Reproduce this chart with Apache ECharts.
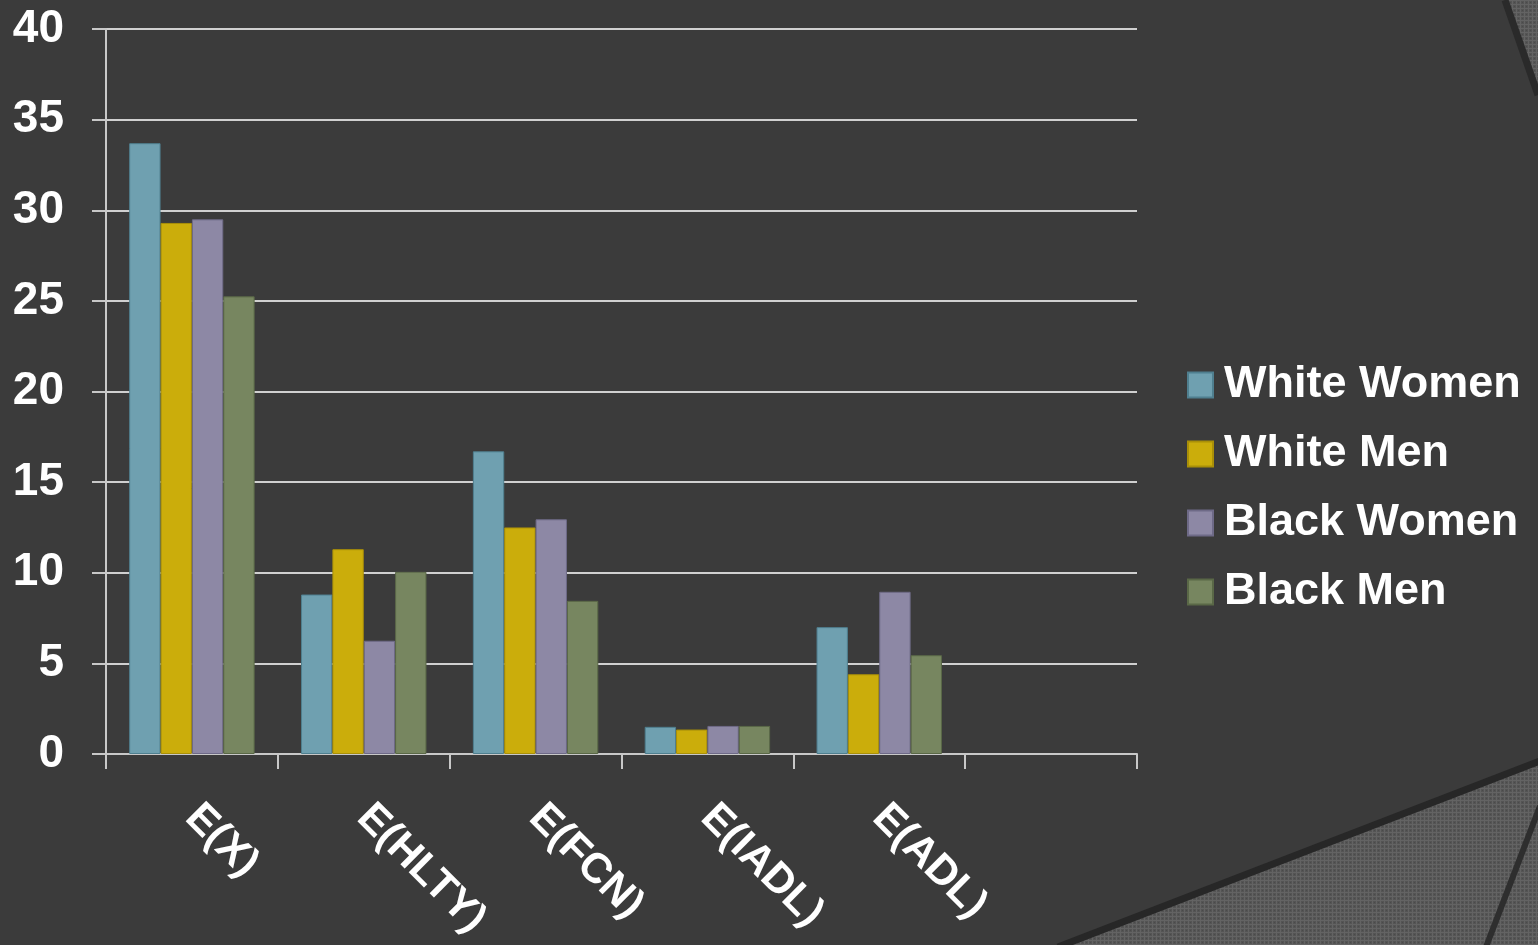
<!DOCTYPE html>
<html>
<head>
<meta charset="utf-8">
<script src="https://cdn.jsdelivr.net/npm/echarts@6/dist/echarts.min.js"></script>
<style>
  html, body { margin: 0; padding: 0; background: #3b3b3b; }
  #chart { width: 1538px; height: 945px; }
</style>
</head>
<body>
<div id="chart"></div>
<script>
// Expected years by health measure and group
const categories = ['E(X)', 'E(HLTY)', 'E(FCN)', 'E(IADL)', 'E(ADL)', ''];
const whiteWomen = [33.7, 8.8, 16.7, 1.5, 7.0];
const whiteMen   = [29.3, 11.3, 12.5, 1.35, 4.4];
const blackWomen = [29.5, 6.25, 12.95, 1.55, 8.95];
const blackMen   = [25.25, 10.05, 8.45, 1.55, 5.45];
const seriesNames = ['White Women', 'White Men', 'Black Women', 'Black Men'];
const yTicks = { min: 0, max: 40, interval: 5 };

const colors = ['#6fa0b0', '#cbad0b', '#8d88a5', '#778660'];
const borders = ['#4f7f8f', '#a98f08', '#6e6a87', '#5a6847'];

// Fine cross-hatched texture for the decorative corner panels
function makeTexture() {
  const c = document.createElement('canvas');
  c.width = 4; c.height = 4;
  const g = c.getContext('2d');
  g.fillStyle = '#545454'; g.fillRect(0, 0, 4, 4);
  g.fillStyle = '#636363'; g.fillRect(0, 0, 4, 1); g.fillRect(0, 0, 1, 4);
  g.fillStyle = '#4a4a4a'; g.fillRect(2, 2, 1, 1);
  return c;
}
const tex = { image: makeTexture(), repeat: 'repeat' };

const chart = echarts.init(document.getElementById('chart'), null, { renderer: 'canvas' });
const seriesData = [whiteWomen, whiteMen, blackWomen, blackMen];

chart.setOption({
  backgroundColor: '#3b3b3b',
  animation: false,
  graphic: [
    { type: 'polygon', z: -10, shape: { points: [[1061, 945], [1538, 762], [1538, 945]] },
      style: { fill: tex } },
    { type: 'line', z: -9, shape: { x1: 1058, y1: 947, x2: 1540, y2: 761 },
      style: { stroke: '#272727', lineWidth: 7 } },
    { type: 'line', z: -9, shape: { x1: 1486, y1: 947, x2: 1540, y2: 806 },
      style: { stroke: '#2e2e2e', lineWidth: 6 } },
    { type: 'polygon', z: -10, shape: { points: [[1507, 0], [1538, 0], [1538, 92]] },
      style: { fill: tex } },
    { type: 'line', z: -9, shape: { x1: 1505, y1: 0, x2: 1538, y2: 95 },
      style: { stroke: '#2a2a2a', lineWidth: 7 } }
  ],
  grid: { left: 106, right: 401, top: 29, bottom: 191 },
  legend: {
    orient: 'vertical',
    left: 1182,
    top: 355,
    data: seriesNames,
    icon: 'rect',
    itemWidth: 25,
    itemHeight: 25,
    itemGap: 19,
    textStyle: {
      color: '#ffffff',
      fontFamily: 'Liberation Sans, Arial, sans-serif',
      fontWeight: 'bold',
      fontSize: 45,
      lineHeight: 50,
      padding: [0, 0, 0, 6]
    }
  },
  xAxis: {
    type: 'category',
    data: categories,
    axisLine: { show: true, lineStyle: { color: '#c8c8c8', width: 2 } },
    axisTick: { show: true, length: 15, lineStyle: { color: '#c8c8c8', width: 2 } },
    axisLabel: {
      color: '#ffffff',
      interval: 0,
      rotate: -45,
      margin: 57,
      fontFamily: 'Liberation Sans, Arial, sans-serif',
      fontWeight: 'bold',
      fontSize: 42
    },
    splitLine: { show: false }
  },
  yAxis: {
    type: 'value',
    min: yTicks.min,
    max: yTicks.max,
    interval: yTicks.interval,
    axisLine: { show: true, lineStyle: { color: '#c8c8c8', width: 2 } },
    axisTick: { show: true, length: 14, lineStyle: { color: '#c8c8c8', width: 2 } },
    axisLabel: {
      color: '#ffffff',
      margin: 42,
      fontFamily: 'Liberation Sans, Arial, sans-serif',
      fontWeight: 'bold',
      fontSize: 46
    },
    splitLine: { show: true, lineStyle: { color: '#d0d0d0', width: 2 } }
  },
  series: seriesNames.map((name, i) => ({
    name: name,
    type: 'bar',
    data: seriesData[i],
    barGap: '0%',
    barCategoryGap: '27%',
    itemStyle: { color: colors[i], borderColor: borders[i], borderWidth: 1 }
  }))
});
</script>
</body>
</html>
